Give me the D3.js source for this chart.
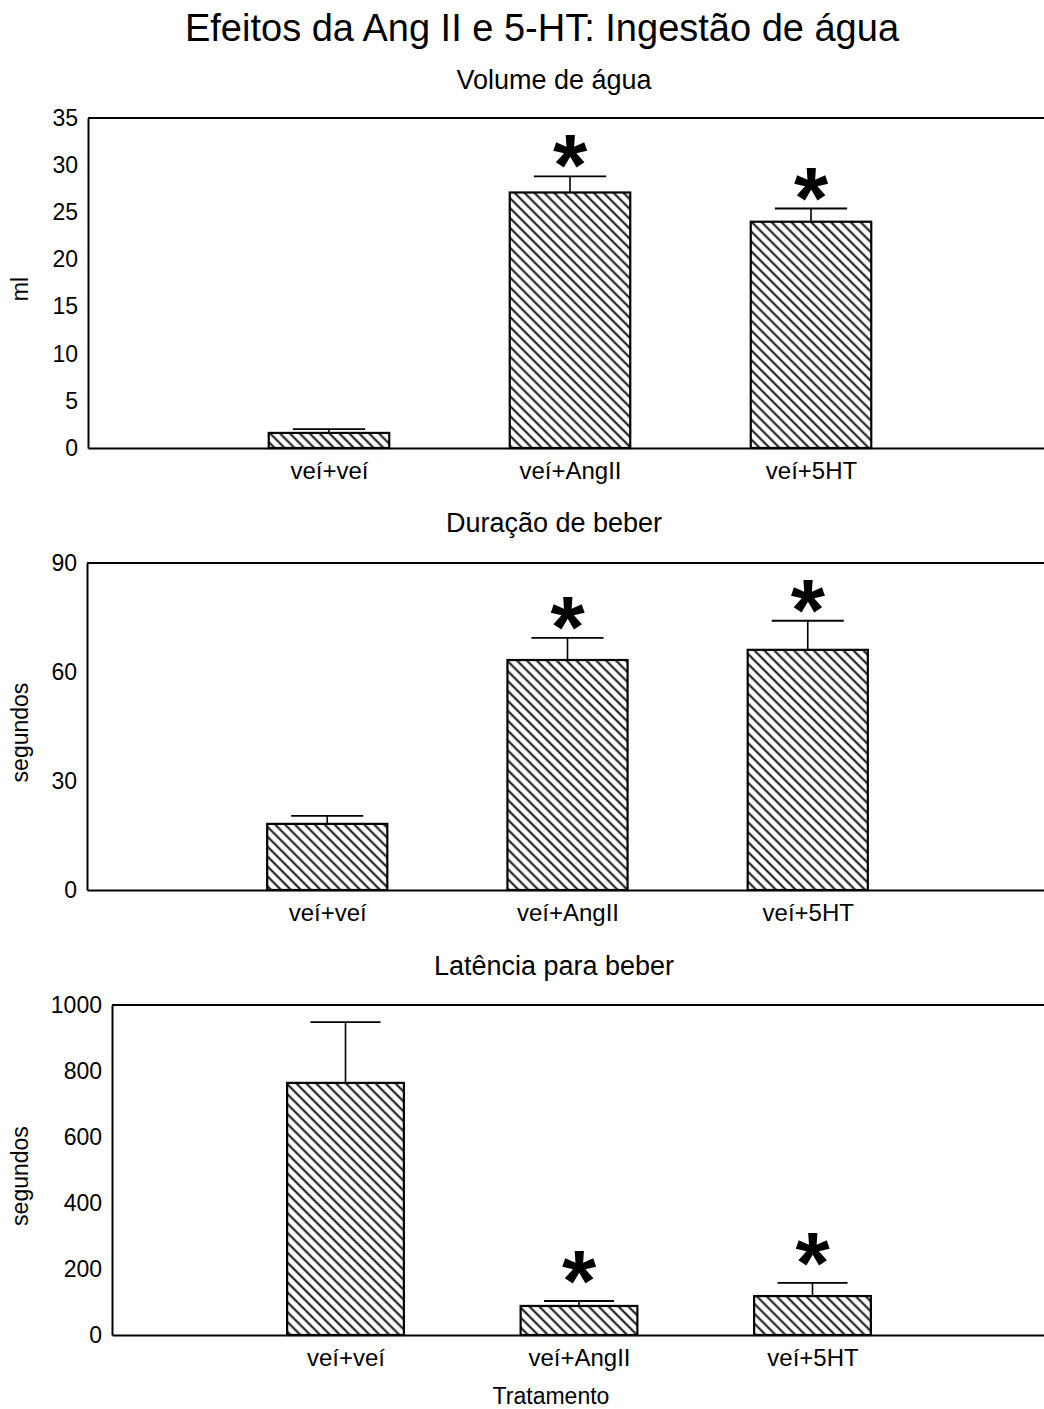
<!DOCTYPE html>
<html>
<head>
<meta charset="utf-8">
<script src="https://cdn.jsdelivr.net/npm/d3@7"></script>
<style>
  html, body { margin: 0; padding: 0; background: #fff; }
  svg { display: block; }
  text { font-family: "Liberation Sans", Arial, sans-serif; fill: #000; }
</style>
</head>
<body>
<svg id="chart" width="1044" height="1409"></svg>
<script>
// Treatment groups
const categories = ["veí+veí", "veí+AngII", "veí+5HT"];
const significant = [false, true, true];

// Water volume (ml): mean and SEM
const volumeMean = [1.6, 27.1, 24.0];
const volumeErr = [0.4, 1.7, 1.4];
const volumeTicks = [0, 5, 10, 15, 20, 25, 30, 35];

// Drinking duration (s): mean and SEM
const durationMean = [18.2, 63.3, 66.1];
const durationErr = [2.2, 6.1, 8.0];
const durationTicks = [0, 30, 60, 90];

// Latency to drink (s): mean and SEM
const latencyMean = [764, 88, 118];
const latencyErr = [184, 15, 40];
const latencyTicks = [0, 200, 400, 600, 800, 1000];

const svg = d3.select("#chart");
const W = 1044;

// diagonal hatch used for all bars
const defs = svg.append("defs");
const pat = defs.append("pattern")
  .attr("id", "hatch")
  .attr("patternUnits", "userSpaceOnUse")
  .attr("width", 7).attr("height", 7)
  .attr("patternTransform", "rotate(-45)");
pat.append("rect").attr("width", 7).attr("height", 7).attr("fill", "#fff");
pat.append("line")
  .attr("x1", 3.5).attr("y1", -1).attr("x2", 3.5).attr("y2", 8)
  .attr("stroke", "#000").attr("stroke-width", 1.9);

svg.append("text")
  .attr("x", 542).attr("y", 41)
  .attr("text-anchor", "middle")
  .style("font-size", "38px")
  .text("Efeitos da Ang II e 5-HT: Ingestão de água");

const panels = [
  { title: "Volume de água", yLabel: "ml", mean: volumeMean, err: volumeErr, ticks: volumeTicks,
    top: 118, bottom: 448, left: 88, right: 1052, titleY: 89, starGap: 32 },
  { title: "Duração de beber", yLabel: "segundos", mean: durationMean, err: durationErr, ticks: durationTicks,
    top: 563, bottom: 890, left: 87, right: 1048, titleY: 532, starGap: 32 },
  { title: "Latência para beber", yLabel: "segundos", mean: latencyMean, err: latencyErr, ticks: latencyTicks,
    top: 1005, bottom: 1335, left: 112, right: 1046, titleY: 975, starGap: 41 }
];

panels.forEach(p => {
  const g = svg.append("g");
  const x = d3.scaleLinear().domain([0, 4]).range([p.left, p.right]);
  const y = d3.scaleLinear().domain([0, d3.max(p.ticks)]).range([p.bottom, p.top]);
  const unit = x(1) - x(0);
  const barW = unit * 0.5;
  const capW = unit * 0.3;

  // panel title
  g.append("text")
    .attr("x", 554).attr("y", p.titleY)
    .attr("text-anchor", "middle")
    .style("font-size", "27px")
    .text(p.title);

  const data = categories.map((c, i) => ({ c, i: i + 1, m: p.mean[i], e: p.err[i], s: significant[i] }));

  // error bars (upper only)
  g.selectAll(".stem").data(data).join("line")
    .attr("x1", d => x(d.i)).attr("x2", d => x(d.i))
    .attr("y1", d => y(d.m)).attr("y2", d => y(d.m + d.e))
    .attr("stroke", "#000").attr("stroke-width", 1.6);
  g.selectAll(".cap").data(data).join("line")
    .attr("x1", d => x(d.i) - capW / 2).attr("x2", d => x(d.i) + capW / 2)
    .attr("y1", d => y(d.m + d.e)).attr("y2", d => y(d.m + d.e))
    .attr("stroke", "#000").attr("stroke-width", 1.8);

  // hatched bars
  g.selectAll(".bar").data(data).join("rect")
    .attr("x", d => x(d.i) - barW / 2)
    .attr("width", barW)
    .attr("y", d => y(d.m))
    .attr("height", d => y(0) - y(d.m))
    .attr("fill", "url(#hatch)")
    .attr("stroke", "#000").attr("stroke-width", 2.2);

  // significance markers
  g.selectAll(".star").data(data.filter(d => d.s)).join("text")
    .attr("x", d => x(d.i))
    .attr("y", d => y(d.m + d.e) - p.starGap)
    .attr("text-anchor", "middle")
    .attr("dy", "0.58em")
    .style("font-size", "88px")
    .style("font-weight", "bold")
    .text("*");

  // top frame line
  g.append("line")
    .attr("x1", p.left).attr("x2", W)
    .attr("y1", p.top).attr("y2", p.top)
    .attr("stroke", "#000").attr("stroke-width", 2);

  // y axis
  const ya = g.append("g")
    .attr("transform", `translate(${p.left},0)`)
    .call(d3.axisLeft(y).tickValues(p.ticks).tickFormat(d3.format("d"))
      .tickSize(0).tickSizeOuter(0).tickPadding(10));
  ya.select(".domain").attr("stroke", "#000").attr("stroke-width", 2);
  ya.selectAll("text").style("font-size", "23px").style("font-family", "'Liberation Sans', Arial, sans-serif")
    .attr("fill", "#000");

  // x axis
  const xa = g.append("g")
    .attr("transform", `translate(0,${p.bottom})`)
    .call(d3.axisBottom(x).tickValues([1, 2, 3]).tickFormat(d => categories[d - 1])
      .tickSize(0).tickSizeOuter(0).tickPadding(14));
  xa.select(".domain").attr("stroke", "#000").attr("stroke-width", 2.2);
  xa.selectAll("text").style("font-size", "24px").style("font-family", "'Liberation Sans', Arial, sans-serif")
    .attr("fill", "#000");

  // y axis label
  g.append("text")
    .attr("transform", `translate(28,${(p.top + p.bottom) / 2 + 6}) rotate(-90)`)
    .attr("text-anchor", "middle")
    .style("font-size", "23px")
    .text(p.yLabel);
});

svg.append("text")
  .attr("x", 551).attr("y", 1404)
  .attr("text-anchor", "middle")
  .style("font-size", "23px")
  .text("Tratamento");
</script>
</body>
</html>
